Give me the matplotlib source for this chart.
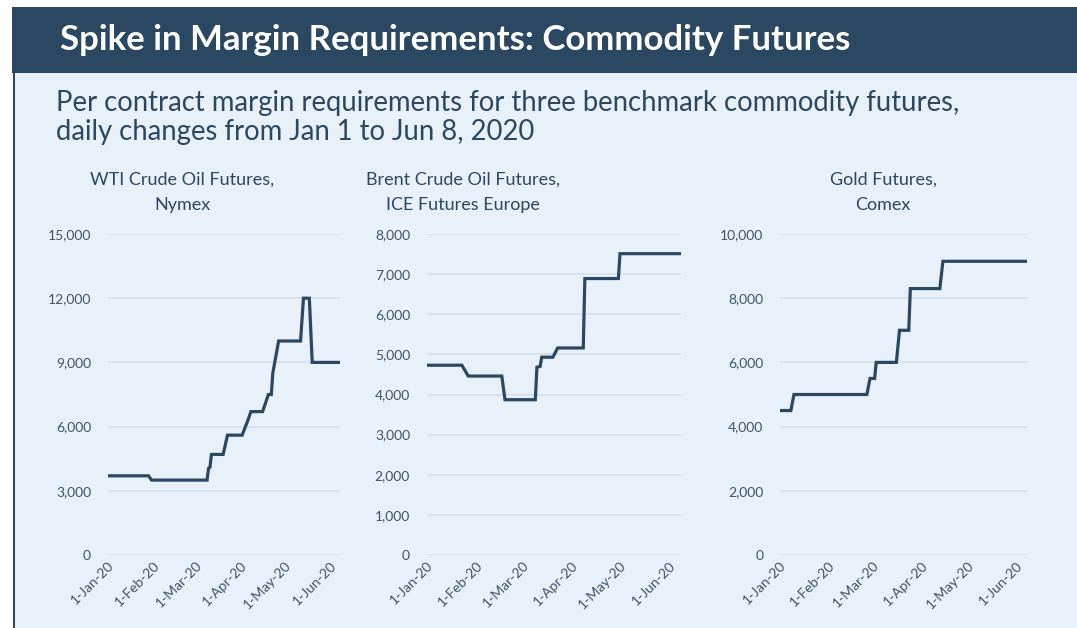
import numpy as np
import pandas as pd
import matplotlib
matplotlib.use('Agg')
import matplotlib.pyplot as plt
import matplotlib.dates as mdates
from matplotlib.patches import Rectangle
from matplotlib.ticker import FuncFormatter, MultipleLocator

plt.rcParams['font.family'] = ['Lato', 'DejaVu Sans']

navy = '#2B4863'
bg = '#E8F1FA'
grid_c = '#D6E1ED'
tick_c = '#3E5469'

# corner points of the step series (date, margin in USD per contract)
wti_dates = ['2020-01-01', '2020-01-29', '2020-01-31', '2020-03-09', '2020-03-10',
             '2020-03-11', '2020-03-12', '2020-03-20', '2020-03-23', '2020-04-02',
             '2020-04-06', '2020-04-08', '2020-04-16', '2020-04-20', '2020-04-22',
             '2020-04-23', '2020-04-27', '2020-05-12', '2020-05-14', '2020-05-18',
             '2020-05-20', '2020-06-08']
wti_vals = [3700, 3700, 3500, 3500, 4050,
            4100, 4700, 4700, 5600, 5600,
            6300, 6700, 6700, 7500, 7500,
            8500, 10000, 10000, 12000, 12000,
            9000, 9000]

brent_dates = ['2020-01-01', '2020-01-23', '2020-01-27', '2020-02-17', '2020-02-19',
               '2020-03-09', '2020-03-10', '2020-03-12', '2020-03-13', '2020-03-20',
               '2020-03-23', '2020-04-08', '2020-04-09', '2020-04-30', '2020-05-01',
               '2020-06-08']
brent_vals = [4730, 4730, 4460, 4460, 3870,
              3870, 4680, 4700, 4930, 4930,
              5160, 5160, 6890, 6890, 7510,
              7510]

gold_dates = ['2020-01-01', '2020-01-08', '2020-01-10', '2020-02-26', '2020-02-28',
              '2020-03-02', '2020-03-03', '2020-03-16', '2020-03-18', '2020-03-24',
              '2020-03-25', '2020-04-13', '2020-04-15', '2020-06-08']
gold_vals = [4500, 4500, 5000, 5000, 5500,
             5500, 6000, 6000, 7000, 7000,
             8300, 8300, 9150, 9150]

titles = [('WTI Crude Oil Futures,', 'Nymex'),
          ('Brent Crude Oil Futures,', 'ICE Futures Europe'),
          ('Gold Futures,', 'Comex')]
ymax = [15000, 8000, 10000]
ystep = [3000, 1000, 2000]
series = [(wti_dates, wti_vals), (brent_dates, brent_vals), (gold_dates, gold_vals)]

W, H = 1077, 628
fig = plt.figure(figsize=(W / 100, H / 100), dpi=100)
fig.patch.set_facecolor('white')

# background panel, header band and left rule
fig.patches.append(Rectangle((15 / W, 0), 1, 1 - 73 / H, transform=fig.transFigure,
                             facecolor=bg, edgecolor='none', zorder=-10))
fig.patches.append(Rectangle((12 / W, 1 - 73 / H), 1, 66 / H, transform=fig.transFigure,
                             facecolor=navy, edgecolor='none', zorder=-10))
fig.patches.append(Rectangle((12.5 / W, 0), 2.6 / W, 1 - 73 / H, transform=fig.transFigure,
                             facecolor=navy, edgecolor='none', zorder=-9))

fig.text(60 / W, 1 - 40 / H, 'Spike in Margin Requirements: Commodity Futures',
         color='white', fontsize=25, fontweight='bold', va='center', ha='left')
fig.text(56 / W, 1 - 111 / H,
         'Per contract margin requirements for three benchmark commodity futures,',
         color=navy, fontsize=19.8, va='baseline', ha='left')
fig.text(56 / W, 1 - 140 / H, 'daily changes from Jan 1 to Jun 8, 2020',
         color=navy, fontsize=19.8, va='baseline', ha='left')

# axes boxes in pixels: left, right
boxes = [(107.7, 340), (426.7, 680.7), (780, 1026.7)]
title_x = [182, 463, 883]
y_top, y_bot = 234, 555

fmt = FuncFormatter(lambda x, pos: '%d-%s' % (mdates.num2date(x).day,
                                              mdates.num2date(x).strftime('%b-%y')))

for i, (dates, vals) in enumerate(series):
    l, r = boxes[i]
    ax = fig.add_axes([l / W, 1 - y_bot / H, (r - l) / W, (y_bot - y_top) / H])
    ax.set_zorder(2)
    ax.set_facecolor('none')
    d = pd.to_datetime(dates)
    ax.plot(d, vals, color=navy, lw=2.3, solid_joinstyle='miter', zorder=3)
    ax.set_xlim(pd.Timestamp('2020-01-01'), pd.Timestamp('2020-06-08'))
    ax.set_ylim(0, ymax[i])
    ax.yaxis.set_major_locator(MultipleLocator(ystep[i]))
    ax.yaxis.set_major_formatter(FuncFormatter(lambda v, p: f'{v:,.0f}'))
    ax.xaxis.set_major_locator(mdates.MonthLocator(bymonthday=1))
    ax.xaxis.set_major_formatter(fmt)
    ax.grid(axis='y', color=grid_c, lw=1.3, zorder=0)
    for s in ax.spines.values():
        s.set_visible(False)
    ax.tick_params(axis='both', length=0, colors=tick_c, labelsize=10)
    ax.tick_params(axis='y', pad=12)
    ax.tick_params(axis='x', pad=3)
    for lab in ax.get_xticklabels():
        lab.set_rotation(45)
        lab.set_ha('right')
        lab.set_rotation_mode('anchor')
    fig.text(title_x[i] / W, 1 - 185 / H, titles[i][0], color=navy, fontsize=13,
             ha='center', va='baseline')
    fig.text(title_x[i] / W, 1 - 210 / H, titles[i][1], color=navy, fontsize=13,
             ha='center', va='baseline')

fig.savefig('out.png', dpi=100, facecolor=fig.get_facecolor())
